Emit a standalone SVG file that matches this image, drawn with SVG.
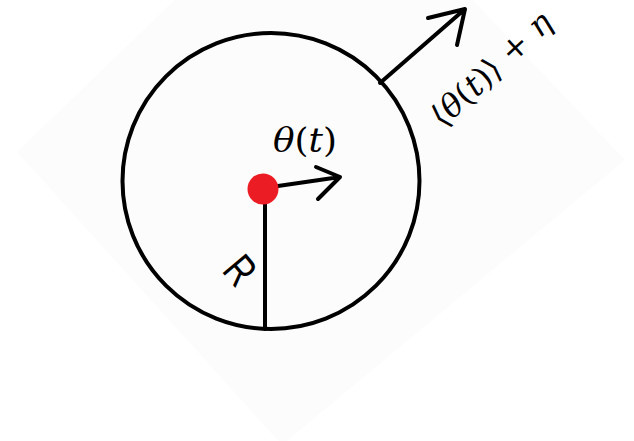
<svg xmlns="http://www.w3.org/2000/svg" width="634" height="441" viewBox="0 0 634 441">
  <defs>
    <style>
      .ln { fill: none; stroke: #000; stroke-width: 4; stroke-linecap: round; stroke-linejoin: round; }
      .math { font-family: "DejaVu Serif", "Liberation Serif", serif; fill: #000; }
      .it { font-style: italic; }
    </style>
  </defs>
  <rect x="0" y="0" width="634" height="441" fill="#ffffff"/>
  <polygon points="17,152 330,-150 625,160 282,445" fill="#fcfcfc"/>
  <g id="cell">
    <ellipse cx="271" cy="181" rx="148.5" ry="148" class="ln" stroke-width="3.5"/>
  </g>
  <g id="connectors">
    <line x1="265" y1="190" x2="265" y2="329" class="ln"/>
    <path d="M278,186 L340,177 M316,167 L340,177 L318,199" class="ln"/>
    <path d="M380,83 L465,9 M428,18 L465,9 L457,45" class="ln"/>
  </g>
  <g id="particle">
    <circle cx="263" cy="189" r="15.5" fill="#ec1c24"/>
  </g>
  <g id="labels">
    <text class="math" x="273" y="152" font-size="33" textLength="64" lengthAdjust="spacingAndGlyphs"><tspan class="it">θ</tspan>(<tspan class="it">t</tspan>)</text>
    <text class="math" x="443" y="129" font-size="32" textLength="152" lengthAdjust="spacingAndGlyphs" transform="rotate(-43 443 129)">⟨<tspan class="it">θ</tspan>(<tspan class="it">t</tspan>)⟩ + <tspan class="it">η</tspan></text>
    <text x="0" y="0" font-family="Liberation Sans, Arial, sans-serif" font-size="44" fill="#000" transform="translate(221 271) rotate(50) scale(0.75 1)">R</text>
  </g>
</svg>
